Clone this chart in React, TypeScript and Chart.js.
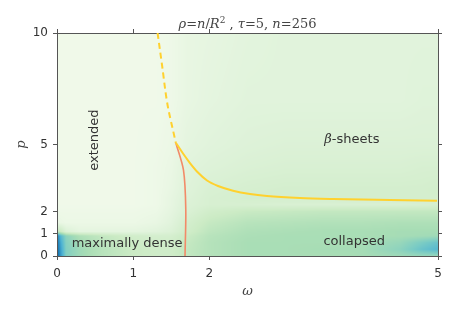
import React, { useEffect, useRef } from "react";
import { Chart, registerables } from "chart.js";

Chart.register(...registerables);

// ---- axes ----
const X_TICKS = [0, 1, 2, 5];
const Y_TICKS = [0, 1, 2, 5, 10];

// ---- heat map (order parameter, GnBu scale 0..1) ----
const OMEGA_NODES = [0, 0.05, 0.12, 0.3, 0.6, 1.0, 1.3, 1.5, 1.7, 2.0, 2.5, 3.0, 3.5, 4.0, 4.5, 4.8, 5.0];
const P_NODES = [0, 0.3, 0.6, 0.9, 1.1, 1.5, 2.0, 2.3, 2.6, 3.0, 4.0, 5.0, 7.0, 10];
const DENSITY = [
  [0.90, 0.70, 0.48, 0.40, 0.32, 0.25, 0.23, 0.23, 0.28, 0.33, 0.37, 0.37, 0.37, 0.38, 0.40, 0.42, 0.42],
  [0.88, 0.68, 0.48, 0.40, 0.32, 0.25, 0.23, 0.23, 0.28, 0.33, 0.37, 0.37, 0.38, 0.38, 0.45, 0.55, 0.60],
  [0.85, 0.65, 0.47, 0.38, 0.30, 0.24, 0.22, 0.22, 0.27, 0.33, 0.37, 0.37, 0.37, 0.38, 0.42, 0.50, 0.55],
  [0.80, 0.60, 0.45, 0.35, 0.28, 0.22, 0.20, 0.20, 0.25, 0.32, 0.36, 0.37, 0.37, 0.37, 0.38, 0.39, 0.40],
  [0.30, 0.25, 0.15, 0.10, 0.10, 0.10, 0.12, 0.15, 0.22, 0.30, 0.35, 0.36, 0.37, 0.37, 0.38, 0.38, 0.38],
  [0.07, 0.07, 0.06, 0.06, 0.06, 0.06, 0.08, 0.12, 0.20, 0.27, 0.32, 0.33, 0.34, 0.34, 0.35, 0.35, 0.35],
  [0.05, 0.05, 0.05, 0.05, 0.05, 0.05, 0.06, 0.10, 0.16, 0.22, 0.26, 0.27, 0.28, 0.28, 0.28, 0.28, 0.28],
  [0.04, 0.04, 0.04, 0.04, 0.04, 0.04, 0.05, 0.09, 0.15, 0.18, 0.18, 0.17, 0.17, 0.17, 0.17, 0.18, 0.19],
  [0.04, 0.04, 0.04, 0.04, 0.04, 0.04, 0.05, 0.09, 0.14, 0.18, 0.20, 0.20, 0.20, 0.20, 0.20, 0.20, 0.20],
  [0.04, 0.04, 0.04, 0.04, 0.04, 0.04, 0.05, 0.08, 0.13, 0.17, 0.19, 0.20, 0.20, 0.20, 0.20, 0.20, 0.21],
  [0.04, 0.04, 0.04, 0.04, 0.04, 0.04, 0.05, 0.07, 0.12, 0.14, 0.16, 0.17, 0.17, 0.17, 0.17, 0.18, 0.18],
  [0.04, 0.04, 0.04, 0.04, 0.04, 0.04, 0.045, 0.06, 0.10, 0.12, 0.14, 0.15, 0.15, 0.15, 0.15, 0.15, 0.15],
  [0.04, 0.04, 0.04, 0.04, 0.04, 0.04, 0.04, 0.05, 0.08, 0.10, 0.12, 0.12, 0.12, 0.12, 0.12, 0.13, 0.13],
  [0.04, 0.04, 0.04, 0.04, 0.04, 0.04, 0.04, 0.05, 0.08, 0.09, 0.11, 0.12, 0.12, 0.12, 0.12, 0.12, 0.12],
];

// ---- phase lines ----
const SHEET_OMEGA = [1.562, 1.654, 1.745, 1.85, 1.969, 2.113, 2.31, 2.533, 2.756, 3.189, 3.622, 4.37, 4.987];
const SHEET_P = [5.067, 4.596, 4.17, 3.744, 3.386, 3.139, 2.928, 2.78, 2.691, 2.601, 2.556, 2.511, 2.48];
const SPINODAL_OMEGA = [1.32, 1.38, 1.44, 1.53, 1.56];
const SPINODAL_P = [10, 8.52, 6.99, 5.52, 5.07];
const COIL_OMEGA = [1.56, 1.66, 1.69, 1.68];
const COIL_P = [5.07, 3.85, 2.1, 0];

// ---- labels ----
const REGION_LABELS = [
  { text: "extended", omega: 0.5, p: 5.2, rotate: true },
  { text: "-sheets", omega: 3.87, p: 5.2, greek: "β" },
  { text: "maximally dense", omega: 0.92, p: 0.54 },
  { text: "collapsed", omega: 3.9, p: 0.63 },
];

const GNBU = [
  [247, 252, 240], [224, 243, 219], [204, 235, 197], [168, 221, 181], [123, 204, 196],
  [78, 179, 211], [43, 140, 190], [8, 104, 172], [8, 64, 129],
];

function gnbu(v: number): number[] {
  const t = Math.max(0, Math.min(1, v)) * (GNBU.length - 1);
  const i = Math.min(GNBU.length - 2, Math.floor(t));
  const f = t - i;
  const a = GNBU[i], b = GNBU[i + 1];
  return [a[0] + (b[0] - a[0]) * f, a[1] + (b[1] - a[1]) * f, a[2] + (b[2] - a[2]) * f];
}

function seg(nodes: number[], v: number): [number, number] {
  if (v <= nodes[0]) return [0, 0];
  for (let i = 0; i < nodes.length - 1; i++) {
    if (v <= nodes[i + 1]) return [i, (v - nodes[i]) / (nodes[i + 1] - nodes[i])];
  }
  return [nodes.length - 2, 1];
}

const heatmapPlugin = {
  id: "heatmap",
  beforeDraw(chart: any) {
    const { ctx, chartArea: a, scales } = chart;
    const w = Math.round(a.right - a.left);
    const h = Math.round(a.bottom - a.top);
    const off = document.createElement("canvas");
    off.width = w;
    off.height = h;
    const octx = off.getContext("2d")!;
    const img = octx.createImageData(w, h);
    for (let py = 0; py < h; py++) {
      const p = scales.y.getValueForPixel(a.top + py + 0.5);
      const [j, fy] = seg(P_NODES, p);
      for (let px = 0; px < w; px++) {
        const om = scales.x.getValueForPixel(a.left + px + 0.5);
        const [i, fx] = seg(OMEGA_NODES, om);
        const v00 = DENSITY[j][i], v01 = DENSITY[j][i + 1];
        const v10 = DENSITY[j + 1][i], v11 = DENSITY[j + 1][i + 1];
        const v = (v00 * (1 - fx) + v01 * fx) * (1 - fy) + (v10 * (1 - fx) + v11 * fx) * fy;
        const c = gnbu(v);
        const k = (py * w + px) * 4;
        img.data[k] = c[0];
        img.data[k + 1] = c[1];
        img.data[k + 2] = c[2];
        img.data[k + 3] = 255;
      }
    }
    octx.putImageData(img, 0, 0);
    ctx.drawImage(off, a.left, a.top);
  },
};

const textPlugin = {
  id: "texts",
  afterDraw(chart: any) {
    const { ctx, scales, chartArea: a } = chart;
    ctx.save();
    ctx.fillStyle = "#333";
    ctx.textBaseline = "middle";
    for (const l of REGION_LABELS) {
      const x = scales.x.getPixelForValue(l.omega);
      const y = scales.y.getPixelForValue(l.p);
      ctx.save();
      ctx.translate(x, y);
      if (l.rotate) ctx.rotate(-Math.PI / 2);
      ctx.font = "13px 'DejaVu Sans'";
      if (l.greek) {
        const sf = "italic 13px 'DejaVu Serif'";
        ctx.font = sf;
        const gw = ctx.measureText(l.greek).width;
        ctx.font = "13px 'DejaVu Sans'";
        const tw = ctx.measureText(l.text).width;
        const x0 = -(gw + tw) / 2;
        ctx.textAlign = "left";
        ctx.font = sf;
        ctx.fillText(l.greek, x0, 0);
        ctx.font = "13px 'DejaVu Sans'";
        ctx.fillText(l.text, x0 + gw, 0);
      } else {
        ctx.textAlign = "center";
        ctx.fillText(l.text, 0, 0);
      }
      ctx.restore();
    }
    // axis titles
    ctx.fillStyle = "#444";
    ctx.font = "italic 13px 'DejaVu Serif'";
    ctx.textAlign = "center";
    ctx.fillText("ω", (a.left + a.right) / 2, 292);
    ctx.save();
    ctx.translate(22, (a.top + a.bottom) / 2);
    ctx.rotate(-Math.PI / 2);
    ctx.fillText("p", 0, 0);
    ctx.restore();
    // title in math style
    const it = "italic 13px 'DejaVu Serif'";
    const rm = "13px 'DejaVu Serif'";
    const sup = "9px 'DejaVu Serif'";
    const parts: [string, string, number][] = [
      ["ρ", it, 0], ["=", rm, 0], ["n", it, 0], ["/", rm, 0], ["R", it, 0], ["2", sup, -5],
      [" , ", rm, 0], ["τ", it, 0], ["=5, ", rm, 0], ["n", it, 0], ["=256", rm, 0],
    ];
    let total = 0;
    for (const [t, f] of parts) { ctx.font = f; total += ctx.measureText(t).width; }
    let x = (a.left + a.right) / 2 - total / 2;
    ctx.textAlign = "left";
    ctx.textBaseline = "alphabetic";
    for (const [t, f, dy] of parts) {
      ctx.font = f;
      ctx.fillText(t, x, 28 + dy);
      x += ctx.measureText(t).width;
    }
    ctx.restore();
  },
};

function axis(position: string, min: number, max: number, ticks: number[], size: number, showLabels: boolean) {
  const horizontal = position === "top" || position === "bottom";
  return {
    type: "linear",
    position,
    min,
    max,
    afterBuildTicks: (s: any) => { s.ticks = ticks.map((v) => ({ value: v })); },
    afterFit: (s: any) => { if (horizontal) s.height = size; else s.width = size; },
    grid: { drawOnChartArea: false, drawTicks: true, tickLength: 4, color: "#555", tickColor: "#555" },
    border: { display: true, color: "#555", width: 1 },
    ticks: {
      display: showLabels,
      font: { family: "'DejaVu Sans'", size: 12 },
      color: "#333",
      padding: horizontal ? 7 : 5,
      maxRotation: 0,
      autoSkip: false,
    },
  };
}

export default function App() {
  const ref = useRef<HTMLCanvasElement>(null);
  useEffect(() => {
    const chart = new Chart(ref.current!, {
      type: "scatter",
      data: {
        datasets: [
          {
            data: SHEET_OMEGA.map((x, i) => ({ x, y: SHEET_P[i] })),
            showLine: true, borderColor: "#FFD12E", borderWidth: 2, pointRadius: 0,
            cubicInterpolationMode: "monotone",
          },
          {
            data: SPINODAL_OMEGA.map((x, i) => ({ x, y: SPINODAL_P[i] })),
            showLine: true, borderColor: "#FFD12E", borderWidth: 2, borderDash: [6, 4], pointRadius: 0,
            cubicInterpolationMode: "monotone",
          },
          {
            data: COIL_OMEGA.map((x, i) => ({ x, y: COIL_P[i] })),
            showLine: true, borderColor: "#F28A68", borderWidth: 1.6, pointRadius: 0, tension: 0.3,
          },
        ],
      },
      options: {
        responsive: false,
        animation: false,
        devicePixelRatio: 1,
        layout: { padding: 0 },
        plugins: { legend: { display: false }, tooltip: { enabled: false }, title: { display: false } },
        scales: {
          x: axis("bottom", 0, 5, X_TICKS, 58, true),
          xTop: axis("top", 0, 5, X_TICKS, 33, false),
          y: axis("left", 0, 10, Y_TICKS, 57, true),
          yRight: axis("right", 0, 10, Y_TICKS, 19, false),
        } as any,
      },
      plugins: [heatmapPlugin, textPlugin],
    });
    return () => chart.destroy();
  }, []);
  return (
    <div style={{ position: "fixed", left: 0, top: 0, width: 457, height: 314, background: "#fff" }}>
      <canvas ref={ref} width={457} height={314} />
    </div>
  );
}
